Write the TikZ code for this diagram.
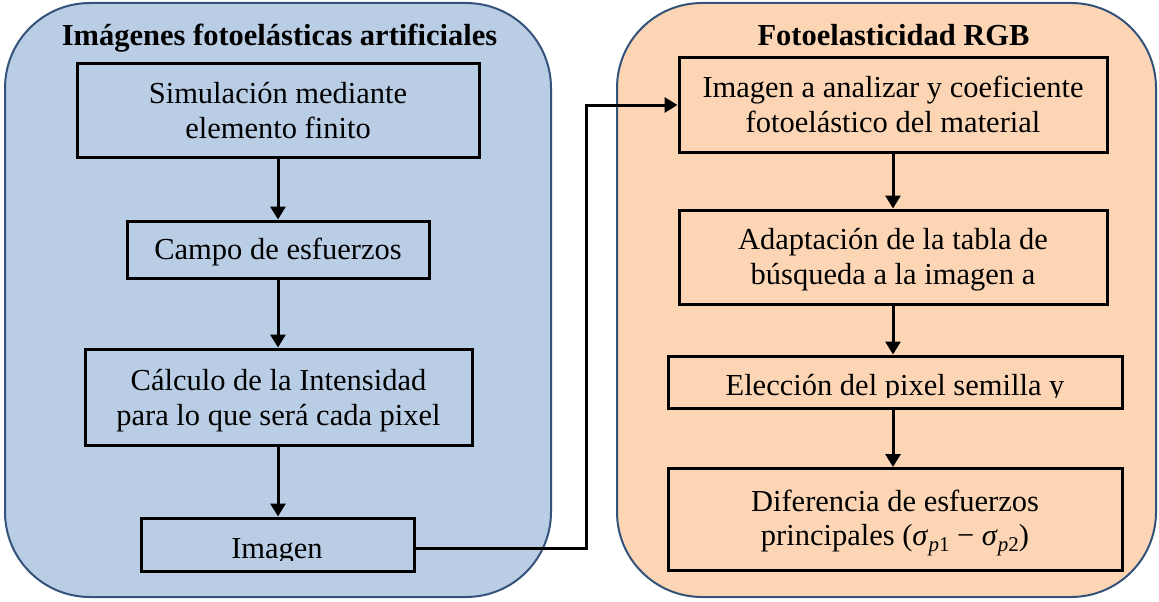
\documentclass[tikz,border=0pt]{standalone}
\usepackage{fontspec}
\setmainfont{Liberation Serif}
\usetikzlibrary{arrows.meta}
\definecolor{bluefill}{HTML}{B9CDE5}
\definecolor{orangefill}{HTML}{FCD5B5}
\definecolor{paneledge}{HTML}{34527A}
\newcommand{\sigsub}[1]{\textit{σ}\raisebox{-6pt}{\fontsize{21}{21}\selectfont\textit{p}#1}}
\begin{document}
\begin{tikzpicture}[x=1pt,y=-1pt,
  panel/.style={draw=paneledge,line width=2pt,rounded corners=85pt},
  stepbox/.style={draw=black,line width=3pt,inner sep=0pt},
  txt/.style={anchor=base,inner sep=0pt,font=\fontsize{30.5}{35}\selectfont},
  ttl/.style={anchor=base,inner sep=0pt,font=\fontsize{30.5}{35}\selectfont\bfseries},
  link/.style={draw=black,line width=3pt,-{Triangle[length=13pt,width=15pt]}}]
\useasboundingbox (0,0) rectangle (1159,602);
% panels
\path[panel,fill=bluefill] (5,3) rectangle (551,597);
\path[panel,fill=orangefill] (617,3) rectangle (1156,597);
\node[ttl] (t1) at (279.5,46) {Imágenes fotoelásticas artificiales};
\node[ttl] (t2) at (893.5,46) {Fotoelasticidad RGB};
% left boxes
\node[stepbox,minimum width=402pt,minimum height=93pt] (b1) at (278,110.5) {};
\node[stepbox,minimum width=302pt,minimum height=57pt] (b2) at (278,249.5) {};
\node[stepbox,minimum width=387pt,minimum height=96pt] (b3) at (278.5,397) {};
\node[stepbox,minimum width=273pt,minimum height=53pt] (b4) at (277.5,544.5) {};
\node[txt] (b1a) at (278,103) {Simulación mediante};
\node[txt] (b1b) at (278,138) {elemento finito};
\node[txt] (b2a) at (278,259.5) {Campo de esfuerzos};
\node[txt] (b3a) at (278.5,390.5) {Cálculo de la Intensidad};
\node[txt] (b3b) at (278.5,425.5) {para lo que será cada pixel};
\begin{scope}
  \clip (141,518) rectangle (414,560);
  \node[txt] (b4a) at (277,558) {Imagen};
\end{scope}
% right boxes
\node[stepbox,minimum width=428pt,minimum height=94pt] (r1) at (893,105) {};
\node[stepbox,minimum width=428pt,minimum height=94pt] (r2) at (893,257) {};
\node[stepbox,minimum width=454pt,minimum height=52pt] (r3) at (895,382) {};
\node[stepbox,minimum width=454pt,minimum height=102pt] (r4) at (895,519.5) {};
\node[txt] (r1a) at (893,97.5) {Imagen a analizar y coeficiente};
\node[txt] (r1b) at (893,132.5) {fotoelástico del material};
\node[txt] (r2a) at (893,249.5) {Adaptación de la tabla de};
\node[txt] (r2b) at (893,284.5) {búsqueda a la imagen a};
\begin{scope}
  \clip (668,356) rectangle (1122,397);
  \node[txt] (r3a) at (895,395) {Elección del pixel semilla y};
\end{scope}
\node[txt] (r4a) at (895,511) {Diferencia de esfuerzos};
\node[txt] (r4b) at (895,545) {principales (\sigsub{1} − \sigsub{2})};
% connectors
\draw[link] (b1.south) -- (b1.south |- b2.north);
\draw[link] (b2.south) -- (b2.south |- b3.north);
\draw[link] (b1.south |- b3.south) -- (b1.south |- b4.north);
\draw[link] (r1.south) -- (r1.south |- r2.north);
\draw[link] (r2.south) -- (r2.south |- r3.north);
\draw[link] (r1.south |- r3.south) -- (r1.south |- r4.north);
\coordinate (bend) at (586,548);
\draw[link] (b4.east |- bend) -- (bend) |- (r1.west);
\end{tikzpicture}
\end{document}
